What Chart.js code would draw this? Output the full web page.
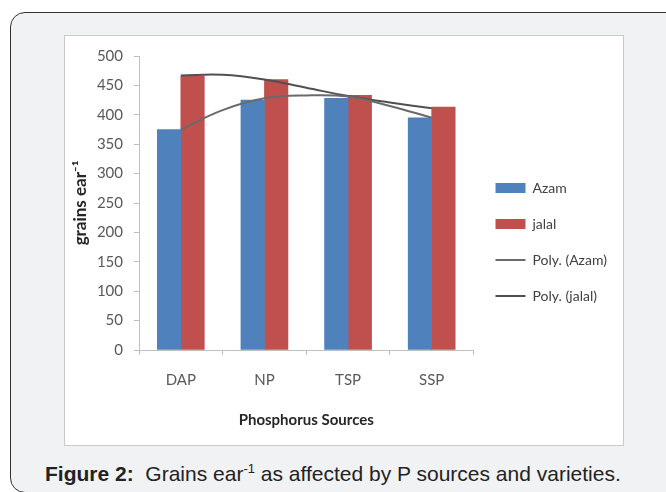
<!DOCTYPE html>
<html>
<head>
<meta charset="utf-8">
<script src="https://cdn.jsdelivr.net/npm/chart.js@4.4.1/dist/chart.umd.min.js"></script>
<style>
    body { margin: 0; background: #ffffff; width: 666px; height: 492px; overflow: hidden; position: relative; }
    #marco { position: absolute; left: 10px; top: 12px; width: 700px; height: 479px; background: #f1f2f4; border: 1.5px solid #333333; border-radius: 15px; }
    #caja { position: absolute; left: 64px; top: 35px; width: 558px; height: 409px; background: #ffffff; border: 1px solid #c9c9c9; }
    #leyenda_fig { position: absolute; left: 45px; top: 463px; line-height: 21px; font-family: "Liberation Sans", Arial, sans-serif; font-size: 21px; color: #222222; white-space: nowrap; }
    #leyenda_fig sup { font-size: 13px; line-height: 0; }
</style>
</head>
<body>
<div id="marco"></div>
<div id="caja"><canvas id="grafico_granos" width="558" height="409"></canvas></div>
<div id="leyenda_fig"><b>Figure 2:</b>&nbsp; Grains ear<sup>-1</sup> as affected by P sources and varieties.</div>
<script>
///DATOS
var fuentes = ["DAP", "NP", "TSP", "SSP"];
var azam = [375, 425, 428, 395];
var jalal = [466, 460, 433, 413];
// lineas de tendencia (posicion 0..3 = centro de cada fuente)
var trend_x = [0, 0.5, 1, 1.5, 2, 2.5, 3];
var trend_azam = [375, 408, 428, 433, 431, 415, 395];
var trend_jalal = [467, 468, 460, 446, 432, 421, 411];
var ticks_y = [0, 50, 100, 150, 200, 250, 300, 350, 400, 450, 500];

var fuente_calibri = "Lato, 'Open Sans', sans-serif";

// barras y tendencias van al mismo eje lineal oculto (indice de la fuente)
function puntos_barras(valores)
{
    return valores.map(function (v, i) { return {x: i, y: v}; });
}

function puntos_tendencia(valores)
{
    var pts = [];
    for (var i = 0; i < trend_x.length; i++) {
        pts.push({x: trend_x[i], y: valores[i]});
    }
    return pts;
}

function grafico_granos()
{
    var ctx = document.getElementById("grafico_granos");
    new Chart(ctx, {
        data: {
            labels: fuentes,
            datasets: [
                {type: "bar", label: "Azam", data: puntos_barras(azam), xAxisID: "xt", backgroundColor: "#4f81bd", borderColor: "#4f81bd", borderWidth: 0, pointStyle: "rect", order: 2},
                {type: "bar", label: "jalal", data: puntos_barras(jalal), xAxisID: "xt", backgroundColor: "#c0504d", borderColor: "#c0504d", borderWidth: 0, pointStyle: "rect", order: 2},
                {type: "line", label: "Poly. (Azam)", data: puntos_tendencia(trend_azam), xAxisID: "xt", borderColor: "#6a6a6a", backgroundColor: "#6a6a6a", borderWidth: 2, pointRadius: 0, tension: 0.4, pointStyle: "line", order: 1},
                {type: "line", label: "Poly. (jalal)", data: puntos_tendencia(trend_jalal), xAxisID: "xt", borderColor: "#505050", backgroundColor: "#505050", borderWidth: 2, pointRadius: 0, tension: 0.4, pointStyle: "line", order: 1}
            ]
        },
        options: {
            responsive: false,
            animation: false,
            layout: {padding: {left: 2, top: 15, right: 14, bottom: 12}},
            datasets: {bar: {barThickness: 23.5}},
            plugins: {
                tooltip: {enabled: false},
                legend: {
                    position: "right",
                    labels: {
                        usePointStyle: true, pointStyleWidth: 30, boxHeight: 10, padding: 22,
                        color: "#404040", font: {family: fuente_calibri, size: 14},
                        sort: function (a, b) { return a.datasetIndex - b.datasetIndex; }
                    }
                }
            },
            scales: {
                x: {
                    type: "category",
                    offset: true,
                    grid: {offset: true, drawOnChartArea: false, tickLength: 5, color: "#bfbfbf"},
                    border: {color: "#bfbfbf"},
                    ticks: {color: "#595959", padding: 16, font: {family: fuente_calibri, size: 15}},
                    title: {display: true, text: "Phosphorus Sources", color: "#262626", padding: {top: 4, bottom: 4}, font: {family: fuente_calibri, size: 15, weight: "bold"}},
                    afterFit: function (s) { s.height = 83; }
                },
                xt: {type: "linear", display: false, offset: false, min: -0.5, max: 3.5},
                y: {
                    min: 0, max: 500,
                    afterBuildTicks: function (s) { s.ticks = ticks_y.map(function (v) { return {value: v}; }); },
                    grid: {drawOnChartArea: false, tickLength: 5, color: "#bfbfbf"},
                    border: {color: "#bfbfbf"},
                    ticks: {color: "#595959", padding: 11, font: {family: fuente_calibri, size: 15}},
                    title: {display: true, text: "grains ear\u207B\u00B9", color: "#262626", padding: {top: 3, bottom: 0}, font: {family: fuente_calibri, size: 17, weight: "bold"}},
                    afterFit: function (s) { s.width = 72; }
                }
            }
        }
    });
}

grafico_granos();
</script>
</body>
</html>
